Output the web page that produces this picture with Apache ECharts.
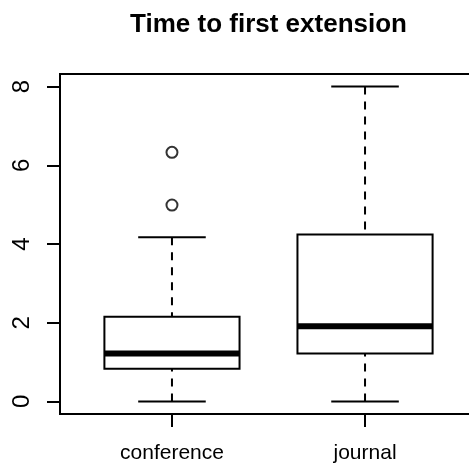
<!DOCTYPE html>
<html><head><meta charset="utf-8">
<script src="https://cdn.jsdelivr.net/npm/echarts@6/dist/echarts.min.js"></script>
<style>html,body{margin:0;padding:0;background:#fff;overflow:hidden}#c{width:469px;height:465px}</style>
</head><body><div id="c"></div>
<script>
const categories = ['conference', 'journal'];
const whiskerLow = [0, 0];
const q1 = [0.83, 1.22];
const median = [1.22, 1.91];
const q3 = [2.15, 4.24];
const whiskerHigh = [4.17, 8];
const outlierGroup = [1, 1];
const outlierValues = [4.99, 6.33];
const yTicks = [0, 2, 4, 6, 8];
const xTicks = [1, 2];

const boxData = categories.map((c, i) => [i + 1, whiskerLow[i], q1[i], median[i], q3[i], whiskerHigh[i]]);
const outlierData = outlierValues.map((v, i) => [outlierGroup[i], v]);

const FONT = 'Liberation Sans, Arial, Helvetica, sans-serif';
const frameLine = {show: true, onZero: false, lineStyle: {color: '#000', width: 2, cap: 'square'}};
const chart = echarts.init(document.getElementById('c'), null, {renderer: 'canvas'});
chart.setOption({
  animation: false,
  backgroundColor: '#fff',
  title: {
    text: 'Time to first extension',
    left: 263.5, top: 7, textAlign: 'center',
    textStyle: {fontFamily: FONT, fontWeight: 'bold', fontSize: 26, color: '#000'}
  },
  grid: {left: 60, top: 74, width: 417, height: 340, show: false, containLabel: false, outerBoundsMode: 'none'},
  xAxis: [{
    type: 'value', min: 0.42, max: 2.58, position: 'bottom',
    axisLine: frameLine,
    splitLine: {show: false},
    axisTick: {show: true, customValues: xTicks, length: 13, lineStyle: {color: '#000', width: 2}},
    axisLabel: {customValues: xTicks, formatter: v => categories[Math.round(v) - 1], fontFamily: FONT, fontSize: 21, color: '#000', margin: 29}
  }, {
    type: 'value', min: 0.42, max: 2.58, position: 'top',
    axisLine: frameLine,
    splitLine: {show: false},
    axisTick: {show: false},
    axisLabel: {show: false}
  }],
  yAxis: {
    type: 'value', min: -0.32, max: 8.32, position: 'left',
    axisLine: frameLine,
    splitLine: {show: false},
    axisTick: {show: true, customValues: yTicks, length: 13, lineStyle: {color: '#000', width: 2}},
    axisLabel: {customValues: yTicks, rotate: 90, fontFamily: FONT, fontSize: 24, color: '#000', margin: 26}
  },
  series: [
    {
      type: 'custom',
      xAxisIndex: 0,
      data: boxData,
      renderItem: function (params, api) {
        const x = api.value(0);
        const lo = api.coord([x, api.value(1)]);
        const b1 = api.coord([x, api.value(2)]);
        const md = api.coord([x, api.value(3)]);
        const b3 = api.coord([x, api.value(4)]);
        const hi = api.coord([x, api.value(5)]);
        const hw = api.size([0.35, 0])[0];
        const cw = hw / 2;
        const cx = md[0];
        const solid = {stroke: '#000', lineWidth: 2, fill: null};
        const dashed = {stroke: '#000', lineWidth: 2, lineDash: [8, 7], fill: null};
        return {
          type: 'group',
          children: [
            {type: 'line', shape: {x1: cx, y1: hi[1], x2: cx, y2: b3[1]}, style: dashed},
            {type: 'line', shape: {x1: cx, y1: lo[1], x2: cx, y2: b1[1]}, style: dashed},
            {type: 'line', shape: {x1: cx - cw, y1: hi[1], x2: cx + cw, y2: hi[1]}, style: solid},
            {type: 'line', shape: {x1: cx - cw, y1: lo[1], x2: cx + cw, y2: lo[1]}, style: solid},
            {type: 'rect', shape: {x: cx - hw, y: b3[1], width: 2 * hw, height: b1[1] - b3[1]}, style: {stroke: '#000', lineWidth: 2, fill: '#fff'}},
            {type: 'line', shape: {x1: cx - hw, y1: md[1], x2: cx + hw, y2: md[1]}, style: {stroke: '#000', lineWidth: 6}}
          ]
        };
      }
    },
    {
      type: 'scatter',
      xAxisIndex: 0,
      data: outlierData,
      symbol: 'circle',
      symbolSize: 11,
      itemStyle: {color: '#fff', borderColor: '#000', borderWidth: 2}
    }
  ]
});
</script>
</body></html>
